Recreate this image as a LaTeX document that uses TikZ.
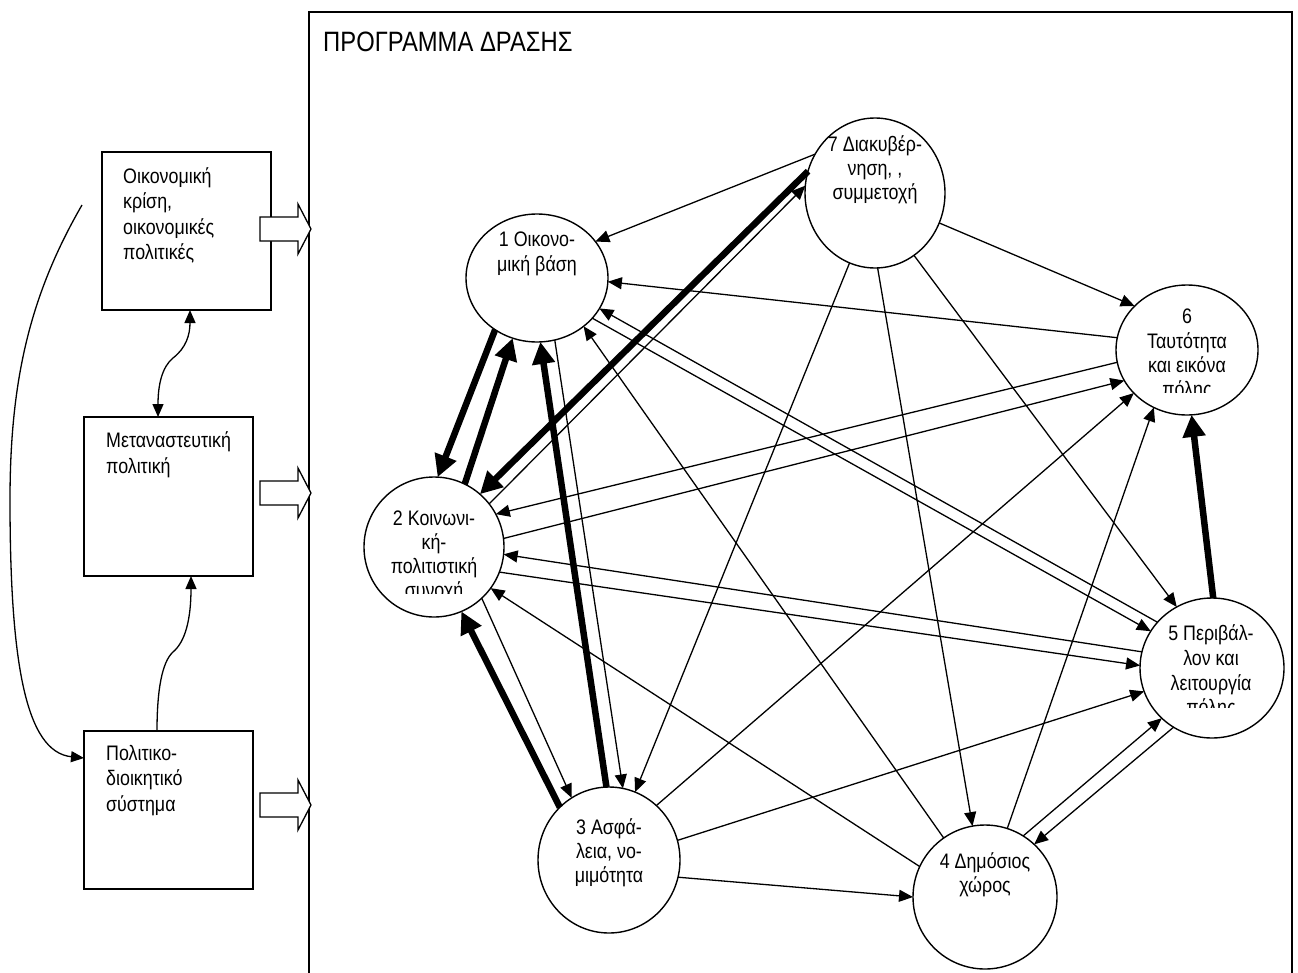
\documentclass[tikz,border=0pt]{standalone}
\usepackage{fontspec}
\setmainfont{Liberation Sans}[FakeStretch=0.85]
\usetikzlibrary{arrows.meta,shapes.geometric}
\begin{document}
\begin{tikzpicture}[x=1pt,y=-1pt,
  >={Triangle[length=13pt,width=11pt]},
  circ/.style={draw,ellipse,line width=1.4pt,inner sep=0pt,outer sep=0pt},
  box/.style={draw,rectangle,line width=1.4pt,inner sep=0pt,outer sep=0pt,minimum width=169pt,minimum height=158pt},
  ctext/.style={anchor=base,inner sep=0pt,font=\fontsize{21}{24}\selectfont},
  ltext/.style={anchor=base west,inner sep=0pt,font=\fontsize{21}{24}\selectfont},
  thinarrow/.style={line width=1.3pt,-{Triangle[length=14pt,width=12pt]}},
  thickarrow/.style={line width=6.5pt,-{Triangle[length=22pt,width=22pt]}},
  curve/.style={line width=1.3pt},
  blockarrow/.style={draw,line width=1.3pt,fill=white,line join=miter}
]
\useasboundingbox (0,0) rectangle (1298,972);

% frame
\node[draw,line width=1.4pt,anchor=north west,minimum width=983pt,minimum height=990pt,inner sep=0pt,outer sep=0pt] (frame) at (309,12) {};
\node[anchor=base west,inner sep=0pt,font=\fontsize{28}{32}\selectfont] (title) at (323,51) {ΠΡΟΓΡΑΜΜΑ ΔΡΑΣΗΣ};

% left boxes
\node[box] (bA) at (186.5,231) {};
\node[box,minimum height=159pt] (bB) at (168.5,496.5) {};
\node[box] (bC) at (168.5,810) {};
\node[ltext] (a1) at (123,183) {Οικονομική};
\node[ltext] (a2) at (123,208) {κρίση,};
\node[ltext] (a3) at (123,234) {οικονομικές};
\node[ltext] (a4) at (123,259) {πολιτικές};
\node[ltext] (b1) at (106,447) {Μεταναστευτική};
\node[ltext] (b2) at (106,473) {πολιτική};
\node[ltext] (cc1) at (106,760) {Πολιτικο-};
\node[ltext] (cc2) at (106,785) {διοικητικό};
\node[ltext] (cc3) at (106,811) {σύστημα};

% block arrows
\coordinate (baA) at (311,229);
\coordinate (baB) at (311,493);
\coordinate (baC) at (311,805);
\foreach \t in {baA,baB,baC}{
  \draw[blockarrow] (\t) -- ++(-13,-25) -- ++(0,13) -- ++(-38,0) -- ++(0,24) -- ++(38,0) -- ++(0,13) -- cycle;
}

% curves on the left
\draw[curve,<->] ([xshift=-10.5pt]bB.north) .. controls (158,385) and (162,367) .. (173,358) .. controls (186,348) and (190,335) .. ([xshift=3.5pt]bA.south);
\draw[curve,->] ([xshift=-11.5pt]bC.north) .. controls (157,690) and (162,662) .. (173,652) .. controls (185,642) and (191,620) .. ([xshift=22.5pt]bB.south);
\coordinate (cs) at (82,205);
\draw[curve,->] (cs) .. controls (30,295) and (10,380) .. (10,500) .. controls (10,660) and (25,752) .. ([yshift=52pt]bC.west);

% circles
\node[circ,minimum width=142pt,minimum height=128pt] (c1) at (537,278) {};
\node[circ,minimum width=140pt,minimum height=140pt] (c2) at (434,547) {};
\node[circ,minimum width=142pt,minimum height=146pt] (c3) at (609,860) {};
\node[circ,minimum width=144pt,minimum height=144pt] (c4) at (985,897) {};
\node[circ,minimum width=144pt,minimum height=140pt] (c5) at (1212,668) {};
\node[circ,minimum width=142pt,minimum height=130pt] (c6) at (1187,350) {};
\node[circ,minimum width=140pt,minimum height=150pt] (c7) at (875,193) {};

% circle texts
\node[ctext] (t1a) at (537,246) {1 Οικονο-};
\node[ctext] (t1b) at (537,271) {μική βάση};
\begin{scope}
\clip (360,480) rectangle (510,593);
\node[ctext] (t2a) at (434,525) {2 Κοινωνι-};
\node[ctext] (t2b) at (434,549) {κή-};
\node[ctext] (t2c) at (434,573) {πολιτιστική};
\node[ctext] (t2d) at (434,597) {συνοχή};
\end{scope}
\node[ctext] (t3a) at (609,834) {3 Ασφά-};
\node[ctext] (t3b) at (609,858) {λεια, νο-};
\node[ctext] (t3c) at (609,882) {μιμότητα};
\node[ctext] (t4a) at (985,868) {4 Δημόσιος};
\node[ctext] (t4b) at (985,892) {χώρος};
\begin{scope}
\clip (1140,600) rectangle (1285,707);
\node[ctext] (t5a) at (1211,640) {5 Περιβάλ-};
\node[ctext] (t5b) at (1211,665) {λον και};
\node[ctext] (t5c) at (1211,690) {λειτουργία};
\node[ctext] (t5d) at (1211,714) {πόλης};
\end{scope}
\begin{scope}
\clip (1117,290) rectangle (1257,392);
\node[ctext] (t6a) at (1187,323) {6};
\node[ctext] (t6b) at (1187,348) {Ταυτότητα};
\node[ctext] (t6c) at (1187,372) {και εικόνα};
\node[ctext] (t6d) at (1187,396) {πόλης};
\end{scope}
\node[ctext] (t7a) at (875,151) {7 Διακυβέρ-};
\node[ctext] (t7b) at (875,175) {νηση, ,};
\node[ctext] (t7c) at (875,199) {συμμετοχή};

% connectors from 7
\draw[thinarrow] (c7.147) -- (c1.32);
\draw[thickarrow] (c7.162) -- (c2.49);
\draw[thinarrow] (c2.38) -- (c7.174);
\draw[thinarrow] (c7.250) -- (c3.69);
\draw[thinarrow] (c7.272) -- (c4.100);
\draw[thinarrow] (c7.302) -- (c5.120);
\draw[thinarrow] (c7.335) -- (c6.140);
% connectors at 1
\draw[thickarrow] (c1.-129) -- (c2.87);
\draw[thickarrow] (c2.64) -- (c1.-112);
\draw[thickarrow] (c3.92) -- (c1.-87);
\draw[thinarrow] (c1.-74) -- (c3.79);
\draw[thinarrow] (c4.125) -- (c1.-46);
\draw[thinarrow] (c1.-36) -- (c5.149);
\draw[thinarrow] (c5.140) -- (c1.-26);
\draw[thinarrow] (c6.170) -- (c1.-3);
% connectors at 2
\draw[thinarrow] (c6.190) -- (c2.28);
\draw[thinarrow] (c2.7) -- (c6.206);
\draw[thinarrow] (c5.167) -- (c2.-6);
\draw[thinarrow] (c2.-21) -- (c5.178);
\draw[thinarrow] (c4.155) -- (c2.-36);
\draw[thinarrow] (c2.-47) -- (c3.121);
\draw[thickarrow] (c3.133) -- (c2.-67);
% connectors at 3
\draw[thinarrow] (c3.49) -- (c6.219);
\draw[thinarrow] (c3.16) -- (c5.199);
\draw[thinarrow] (c3.-14) -- (c4.180);
% connectors at 4
\draw[thinarrow] (c4.72) -- (c6.240);
\draw[thinarrow] (c4.58) -- (c5.225);
\draw[thinarrow] (c5.237) -- (c4.47);
% connector 5 to 6
\draw[thickarrow] (c5.89) -- (c6.274);
\end{tikzpicture}
\end{document}
